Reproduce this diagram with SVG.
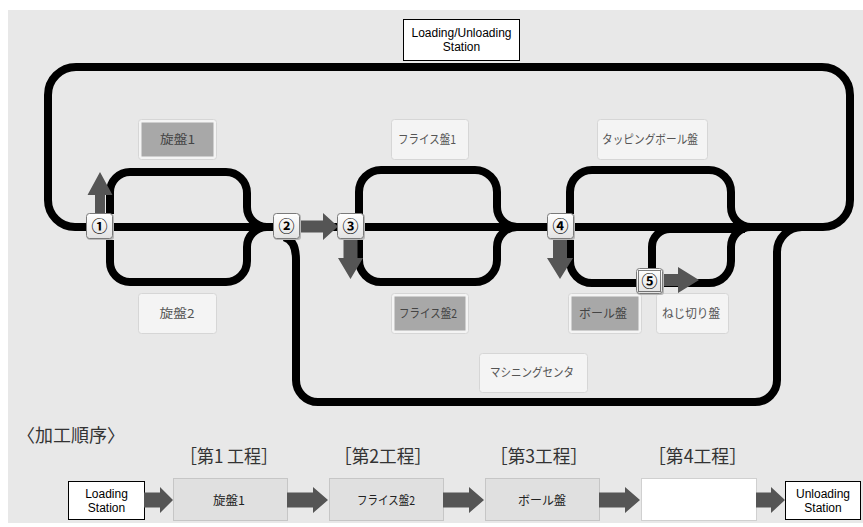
<svg xmlns="http://www.w3.org/2000/svg" width="863" height="527" viewBox="0 0 863 527">
  <defs>
    <linearGradient id="nodeFill" x1="0" y1="0" x2="0" y2="1">
      <stop offset="0" stop-color="#ffffff"/>
      <stop offset="1" stop-color="#e2e2e2"/>
    </linearGradient>
    <style>
      .track { fill: none; stroke: #000; stroke-width: 8; stroke-linejoin: round; }
      .dir { fill: #555; }
      .node-shadow { fill: #b8b8b8; }
      .node-box { fill: url(#nodeFill); stroke: #7a7a7a; stroke-width: 1; }
      .node-num { font-family: "Noto Sans CJK JP", "DejaVu Sans", sans-serif; font-size: 16px; font-weight: bold; fill: #000; text-anchor: middle; }
      .mc-frame { fill: #f4f4f4; stroke: #d6d6d6; stroke-width: 1; }
      .mc-active { fill: #a8a8a8; }
      .mc-label { font-family: "Noto Sans CJK JP", sans-serif; font-size: 12px; fill: #555; text-anchor: middle; }
      .mc-label-dark { fill: #444; }
      .station { fill: #fff; stroke: #000; stroke-width: 1; }
      .station-label { font-family: "Liberation Sans", sans-serif; font-size: 12px; fill: #000; text-anchor: middle; }
      .step-box { fill: #e0e0e0; stroke: #c6c6c6; stroke-width: 1; }
      .step-empty { fill: #fff; stroke: #d0d0d0; stroke-width: 1; }
      .step-label { font-family: "Noto Sans CJK JP", sans-serif; font-size: 12px; fill: #222; text-anchor: middle; }
      .step-title { font-family: "Noto Sans CJK JP", sans-serif; font-size: 18px; fill: #333; }
    </style>
  </defs>

  <!-- panel -->
  <rect x="0" y="0" width="863" height="527" fill="#fff"/>
  <rect x="8" y="10" width="855" height="513" fill="#e8e8e8"/>

  <!-- station box on the outer loop -->
  <g id="station-top">
    <rect class="station" x="403.5" y="19.5" width="116" height="41"/>
    <text class="station-label" x="461.5" y="37" font-size="11.5">Loading/Unloading</text>
    <text class="station-label" x="461.5" y="51" font-size="11.5">Station</text>
  </g>

  <!-- machine tools -->
  <g id="lathe1">
    <rect class="mc-frame" x="138.5" y="119.5" width="78" height="40" rx="3"/>
    <rect class="mc-active" x="141.5" y="122.5" width="72" height="34"/>
    <text class="mc-label mc-label-dark" x="177.5" y="144" textLength="35" lengthAdjust="spacingAndGlyphs">旋盤1</text>
  </g>
  <g id="mill1">
    <rect class="mc-frame" x="391.5" y="119.5" width="77" height="40" rx="3"/>
    <text class="mc-label" x="427" y="144" textLength="58" lengthAdjust="spacingAndGlyphs">フライス盤1</text>
  </g>
  <g id="tapping">
    <rect class="mc-frame" x="597.5" y="119.5" width="110" height="40" rx="3"/>
    <text class="mc-label" x="650" y="144" textLength="96" lengthAdjust="spacingAndGlyphs">タッピングボール盤</text>
  </g>
  <g id="lathe2">
    <rect class="mc-frame" x="138.5" y="293.5" width="78" height="40" rx="3"/>
    <text class="mc-label" x="177" y="318" textLength="35" lengthAdjust="spacingAndGlyphs">旋盤2</text>
  </g>
  <g id="mill2">
    <rect class="mc-frame" x="391.5" y="293.5" width="77" height="40" rx="3"/>
    <rect class="mc-active" x="394.5" y="296.5" width="71" height="34"/>
    <text class="mc-label mc-label-dark" x="428" y="318" textLength="58" lengthAdjust="spacingAndGlyphs">フライス盤2</text>
  </g>
  <g id="drill">
    <rect class="mc-frame" x="568.5" y="293.5" width="73" height="40" rx="3"/>
    <rect class="mc-active" x="571.5" y="296.5" width="67" height="34"/>
    <text class="mc-label mc-label-dark" x="603" y="318" textLength="48" lengthAdjust="spacingAndGlyphs">ボール盤</text>
  </g>
  <g id="threading">
    <rect class="mc-frame" x="656.5" y="293.5" width="72" height="40" rx="3"/>
    <text class="mc-label" x="691" y="318" textLength="58" lengthAdjust="spacingAndGlyphs">ねじ切り盤</text>
  </g>
  <g id="machining-center">
    <rect class="mc-frame" x="479.5" y="353.5" width="108" height="39" rx="3"/>
    <text class="mc-label" x="532" y="377" textLength="84" lengthAdjust="spacingAndGlyphs">マシニングセンタ</text>
  </g>

  <!-- conveyor tracks and direction arrows -->
  <g id="connectors">
    <!-- outer loop with main line -->
    <path class="track" d="M75,227 H823 A27,27 0 0 0 850,200 V95 A28,28 0 0 0 822,67 H76 A28,28 0 0 0 48,95 V200 A27,27 0 0 0 75,227 Z"/>
    <!-- lathe bypass -->
    <path class="track" d="M110,214 V192 A20,20 0 0 1 130,172 H226 A21,21 0 0 1 247,193 V207 A20,20 0 0 0 267,227"/>
    <path class="track" d="M110,240 V262 A20,20 0 0 0 130,282 H226 A21,21 0 0 0 247,261 V247 A20,20 0 0 1 267,227"/>
    <!-- milling bypass -->
    <path class="track" d="M359,214 V192 A22,22 0 0 1 381,170 H475 A22,22 0 0 1 497,192 V207 A20,20 0 0 0 517,227"/>
    <path class="track" d="M359,240 V260 A22,22 0 0 0 381,282 H475 A22,22 0 0 0 497,260 V247 A20,20 0 0 1 517,227"/>
    <!-- tapping / drilling bypass -->
    <path class="track" d="M570,214 V192 A22,22 0 0 1 592,170 H709 A22,22 0 0 1 731,192 V207 A20,20 0 0 0 751,227"/>
    <path class="track" d="M570,240 V261 A22,22 0 0 0 592,283 H709 A22,22 0 0 0 731,261 V247 A20,20 0 0 1 751,227"/>
    <!-- threading spur -->
    <path class="track" d="M652,270 V247 A18,18 0 0 1 670,229 H745"/>
    <!-- machining center loop -->
    <path class="track" d="M284,237 C292,239 296,246 296,260 V380 A22,22 0 0 0 318,402 H755 A22,22 0 0 0 777,380 V252 A25,25 0 0 1 802,227"/>

    <!-- direction arrows -->
    <polygon class="dir" points="95,214 95,195 87.5,195 100,172 112.5,195 105,195 105,214"/>
    <polygon class="dir" points="300,220.5 323,220.5 323,213 338,226.5 323,240 323,232.5 300,232.5"/>
    <polygon class="dir" points="343.5,238 357.5,238 357.5,258 363,258 350.5,279 338,258 343.5,258"/>
    <polygon class="dir" points="553,238 567,238 567,258 573,258 560,279 547,258 553,258"/>
    <polygon class="dir" points="662,274 678,274 678,267 699,280 678,293 678,286 662,286"/>
  </g>

  <!-- switching points -->
  <g id="node1">
    <rect class="node-shadow" x="87" y="214" width="27" height="26" rx="3"/>
    <rect class="node-box" x="86.5" y="213.5" width="26" height="25" rx="3"/>
    <text class="node-num" x="99.5" y="232">①</text>
  </g>
  <g id="node2">
    <rect class="node-shadow" x="274" y="214" width="27" height="26" rx="3"/>
    <rect class="node-box" x="273.5" y="213.5" width="26" height="25" rx="3"/>
    <text class="node-num" x="286.5" y="232">②</text>
  </g>
  <g id="node3">
    <rect class="node-shadow" x="338" y="214" width="27" height="26" rx="3"/>
    <rect class="node-box" x="337.5" y="213.5" width="26" height="25" rx="3"/>
    <text class="node-num" x="350.5" y="232">③</text>
  </g>
  <g id="node4">
    <rect class="node-shadow" x="548" y="214" width="27" height="26" rx="3"/>
    <rect class="node-box" x="547.5" y="213.5" width="26" height="25" rx="3"/>
    <text class="node-num" x="560.5" y="232">④</text>
  </g>
  <g id="node5">
    <rect class="node-shadow" x="637" y="269" width="27" height="26" rx="3"/>
    <rect class="node-box" x="636.5" y="268.5" width="26" height="25" rx="3"/>
    <rect x="638.5" y="270.5" width="22" height="21" fill="none" stroke="#000" stroke-width="1" stroke-dasharray="1 1"/>
    <text class="node-num" x="649.5" y="287">⑤</text>
  </g>

  <!-- processing order -->
  <g id="order-title">
    <text class="step-title" x="17" y="442">〈加工順序〉</text>
  </g>
  <g id="step-titles">
    <text class="step-title" x="180" y="463" textLength="98" lengthAdjust="spacingAndGlyphs">［第1 工程］</text>
    <text class="step-title" x="334" y="463" textLength="98" lengthAdjust="spacingAndGlyphs">［第2工程］</text>
    <text class="step-title" x="490" y="463" textLength="98" lengthAdjust="spacingAndGlyphs">［第3工程］</text>
    <text class="step-title" x="648" y="463" textLength="99" lengthAdjust="spacingAndGlyphs">［第4工程］</text>
  </g>

  <g id="flow-loading">
    <rect class="station" x="68.5" y="481.5" width="76" height="38"/>
    <text class="station-label" x="106.5" y="498">Loading</text>
    <text class="station-label" x="106.5" y="512">Station</text>
  </g>
  <g id="flow-step1">
    <rect class="step-box" x="173.5" y="478.5" width="114" height="42"/>
    <text class="step-label" x="229" y="505" textLength="32" lengthAdjust="spacingAndGlyphs">旋盤1</text>
  </g>
  <g id="flow-step2">
    <rect class="step-box" x="329.5" y="478.5" width="114" height="42"/>
    <text class="step-label" x="386" y="505" textLength="58" lengthAdjust="spacingAndGlyphs">フライス盤2</text>
  </g>
  <g id="flow-step3">
    <rect class="step-box" x="485.5" y="478.5" width="114" height="42"/>
    <text class="step-label" x="542" y="505" textLength="48" lengthAdjust="spacingAndGlyphs">ボール盤</text>
  </g>
  <g id="flow-step4">
    <rect class="step-empty" x="641.5" y="478.5" width="115" height="42"/>
  </g>
  <g id="flow-unloading">
    <rect class="station" x="785.5" y="481.5" width="75" height="38"/>
    <text class="station-label" x="823" y="498">Unloading</text>
    <text class="station-label" x="823" y="512">Station</text>
  </g>
  <g id="flow-arrows">
    <polygon class="dir" points="144,492.5 160,492.5 160,487 173,500 160,513 160,507.5 144,507.5"/>
    <polygon class="dir" points="287,492.5 313,492.5 313,487 328,500 313,513 313,507.5 287,507.5"/>
    <polygon class="dir" points="443,492.5 469,492.5 469,487 484,500 469,513 469,507.5 443,507.5"/>
    <polygon class="dir" points="599,492.5 625,492.5 625,487 640,500 625,513 625,507.5 599,507.5"/>
    <polygon class="dir" points="756,492.5 771,492.5 771,487 785,500 771,513 771,507.5 756,507.5"/>
  </g>
</svg>
